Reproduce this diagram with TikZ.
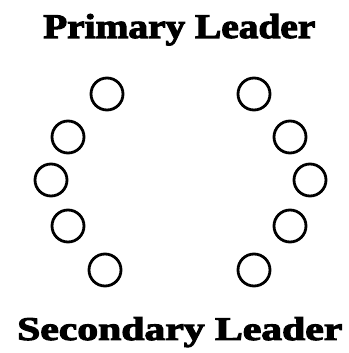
\documentclass[tikz,border=0pt]{standalone}
\usepackage{fontspec}
\setmainfont{Liberation Serif}
\newfontfamily\heavyfont[BoldFeatures={FakeBold=3}]{Liberation Serif}
\usepackage{graphicx}
\begin{document}
\begin{tikzpicture}[x=1pt,y=1pt,
  member/.style={circle,draw=black,line width=2.8pt,minimum size=32pt,inner sep=0pt},
  title/.style={inner sep=0pt,anchor=base west,font=\heavyfont\bfseries}]
\useasboundingbox (0,0) rectangle (348,353);
\node[title] (pl) at (43,315) {\resizebox{272pt}{24pt}{Primary Leader}};
\node[title] (sl) at (17,13) {\resizebox{325pt}{23pt}{Secondary Leader}};
\node[member] (l1) at (107,259) {};
\node[member] (l2) at (68,216) {};
\node[member] (l3) at (51,173) {};
\node[member] (l4) at (68,127) {};
\node[member] (l5) at (105,83) {};
\node[member] (r1) at (254,259) {};
\node[member] (r2) at (290,216) {};
\node[member] (r3) at (310,173) {};
\node[member] (r4) at (290,127) {};
\node[member] (r5) at (254,83) {};
\end{tikzpicture}
\end{document}
